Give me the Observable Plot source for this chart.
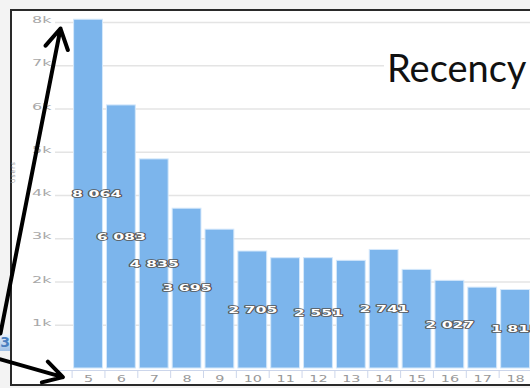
<!DOCTYPE html>
<html><head><meta charset="utf-8">
<script src="https://cdn.jsdelivr.net/npm/d3@7"></script>
<script src="https://cdn.jsdelivr.net/npm/@observablehq/plot@0.6"></script>
<style>
html,body{margin:0;padding:0;background:#f3f3f3;overflow:hidden;width:530px;height:388px}
#wrap{position:relative;width:530px;height:388px;overflow:hidden}
#frame{position:absolute;left:10px;top:9px;width:600px;height:373px;border:2px solid #2a2a2a;background:#fff}
#chart{position:absolute;left:0;top:0}
#titlebox{position:absolute;left:384px;top:36px;width:146px;height:60px;background:#fff}
#title{position:absolute;left:387px;top:49px;font-family:Lato,"Open Sans",sans-serif;font-size:38px;line-height:37px;color:#111;white-space:nowrap}
#ytitle{position:absolute;left:9px;top:183px;font-family:"DejaVu Sans",sans-serif;font-size:6px;color:#999;transform:rotate(-90deg);transform-origin:left top;letter-spacing:1px}
#frag{position:absolute;left:0;top:334px;width:10px;height:17px;overflow:hidden;background:linear-gradient(to bottom,#eef4fb,#9fc0e6)}
#frag span{position:absolute;right:0;top:0;font-family:"DejaVu Sans",sans-serif;font-size:14px;line-height:17px;color:#4a7fc0;font-weight:bold}
</style></head>
<body><div id="wrap">
<div id="frame"></div>
<div id="ytitle">Users</div>
<div id="frag"><span>103</span></div>
<div id="chart"></div>
<div id="titlebox"></div>
<div id="title">Recency</div>
</div>
<script>
// ---- data ----
const recency = [5, 6, 7, 8, 9, 10, 11, 12, 13, 14, 15, 16, 17, 18];
const users = [8064, 6083, 4835, 3695, 3210, 2705, 2550, 2551, 2490, 2741, 2280, 2027, 1870, 1815];
const labeledRecency = [5, 6, 7, 8, 10, 12, 14, 16, 18];   // bars whose value label is shown
const yTicks = [1000, 2000, 3000, 4000, 5000, 6000, 7000, 8000];
const yTickLabels = ["1k", "2k", "3k", "4k", "5k", "6k", "7k", "8k"];
// annotation arrows, in data units (x = recency, y = users)
const arrowFromX = [2.82, 2.82];
const arrowFromY = [810, 210];
const arrowToX = [4.647, 4.72];
const arrowToY = [7860, -200];

const data = recency.map((r, i) => ({r, v: users[i]}));
const labeled = data.filter(d => labeledRecency.includes(d.r));
const arrows = arrowFromX.map((x, i) => ({x1: x, y1: arrowFromY[i], x2: arrowToX[i], y2: arrowToY[i]}));
const fmt = v => d3.format(",")(v).replace(/,/g, " ");

const chart = Plot.plot({
  width: 530, height: 388,
  marginLeft: 55, marginRight: 0, marginTop: 22, marginBottom: 20,
  x: {type: "linear", domain: [4.4947, 18.9543]},
  y: {domain: [0, 8000]},
  style: {fontFamily: "DejaVu Sans, sans-serif", background: "transparent", overflow: "visible"},
  marks: [
    Plot.gridY(yTicks, {stroke: "#e4e4e4", strokeOpacity: 1, strokeWidth: 1.5}),
    Plot.axisY({ticks: yTicks, tickFormat: d => yTickLabels[yTicks.indexOf(d)], tickSize: 0, tickPadding: 4, fontSize: 8, color: "#a8a8a8", dy: -2}),
    Plot.rectY(data, {x: "r", y: "v", interval: 1, fill: "#7cb5ec", stroke: "#d4e8fb", strokeWidth: 1, insetLeft: 2, insetRight: 2}),
    Plot.ruleY([0], {stroke: "#ccd6eb", dy: 2}),
    Plot.axisX({ticks: recency, tickSize: 8, tickFormat: () => "", stroke: "#ccd6eb", dy: 2}),
    Plot.axisX({ticks: recency.map(r => r + 0.5), tickFormat: d => String(d - 0.5), tickSize: 0, tickPadding: 8, fontSize: 8, color: "#999"}),
    Plot.text(labeled.slice(0, 1), {x: "r", y: d => d.v / 2, text: d => fmt(d.v), textAnchor: "start", fill: "white", stroke: "#555", strokeWidth: 1.6, fontWeight: "bold", fontSize: 9}),
    Plot.text(labeled.slice(1), {x: d => d.r + 0.5, y: d => d.v / 2, text: d => fmt(d.v), fill: "white", stroke: "#555", strokeWidth: 1.6, fontWeight: "bold", fontSize: 9}),
    Plot.arrow(arrows, {x1: "x1", y1: "y1", x2: "x2", y2: "y2", stroke: "black", strokeWidth: 4, headLength: 8.5, headAngle: 60})
  ]
});
document.getElementById("chart").appendChild(chart);

// horizontally stretched text, as in the screenshot (scale about each label's anchor)
function stretch(sel, k) {
  d3.select(chart).selectAll(sel).each(function() {
    const t = this.getAttribute("transform") || "";
    this.setAttribute("transform", t + ` scale(${k},1)`);
  });
}
stretch("g[aria-label='y-axis tick label'] text", 2.0);
stretch("g[aria-label='x-axis tick label'] text", 1.8);
stretch("g[aria-label='text'] text", 1.75);
</script>
</body></html>
